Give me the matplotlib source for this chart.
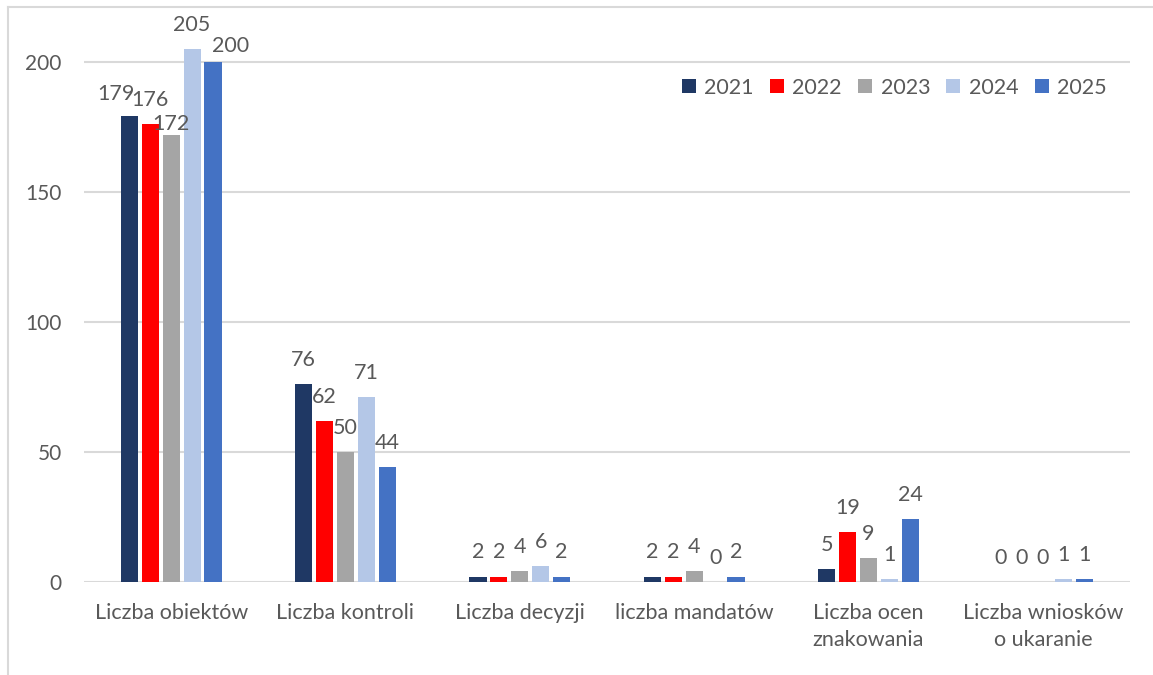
import numpy as np
import matplotlib.pyplot as plt
from matplotlib.patches import Patch
from matplotlib.lines import Line2D

plt.rcParams['font.family'] = ['Lato', 'DejaVu Sans']

# Data
categories = ['Liczba obiektów', 'Liczba kontroli', 'Liczba decyzji',
              'liczba mandatów', 'Liczba ocen\nznakowania', 'Liczba wniosków\no ukaranie']
years = ['2021', '2022', '2023', '2024', '2025']
v2021 = [179, 76, 2, 2, 5, 0]
v2022 = [176, 62, 2, 2, 19, 0]
v2023 = [172, 50, 4, 4, 9, 0]
v2024 = [205, 71, 6, 0, 1, 1]
v2025 = [200, 44, 2, 2, 24, 1]
series = [v2021, v2022, v2023, v2024, v2025]

colors = ['#1F3864', '#FF0000', '#A5A5A5', '#B4C7E7', '#4472C4']
text_col = '#595959'
grid_col = '#D9D9D9'

# manual nudges of a few crowded labels (series, category) -> (dx, dy) in px
label_nudge = {(0, 0): (-13, -2), (2, 0): (0, -13), (4, 0): (18, -8)}

W, H = 1153, 675
fig = plt.figure(figsize=(W / 100, H / 100), dpi=100)
y0_px, ymax = 581.7, 220
px_per_unit = 2.6
top_px = y0_px - ymax * px_per_unit
ax = fig.add_axes([84 / W, (H - y0_px) / H, 1046 / W, (y0_px - top_px) / H])

x = np.arange(len(categories))
pitch, width = 0.12, 0.098
for j, vals in enumerate(series):
    xs = x + (j - 2) * pitch
    ax.bar(xs, vals, width=width, color=colors[j], zorder=3, label=years[j])
    for i, v in enumerate(vals):
        dx, dy = label_nudge.get((j, i), (0, 0))
        ax.annotate(str(v), (xs[i], v), xytext=(dx * 0.72, (18 + dy) * 0.72),
                    textcoords='offset points', ha='center', va='baseline',
                    fontsize=15.5, color=text_col, zorder=4)

ax.set_xlim(-0.5, len(categories) - 0.5)
ax.set_ylim(0, ymax)
ax.set_yticks([0, 50, 100, 150, 200])
ax.yaxis.grid(True, color=grid_col, linewidth=1.5, zorder=0)
ax.set_xticks(x)
ax.set_xticklabels(categories, linespacing=1.45)
for s in ax.spines.values():
    s.set_visible(False)
ax.axhline(0, color=grid_col, linewidth=2, zorder=2)
ax.tick_params(axis='y', length=0, pad=16, labelsize=15, labelcolor=text_col)
ax.tick_params(axis='x', length=0, pad=15, labelsize=15.5, labelcolor=text_col)

handles = [Patch(facecolor=c, edgecolor='none') for c in colors]
fig.legend(handles, years, loc='center right', bbox_to_anchor=(1107 / W, (H - 87.7) / H),
           ncol=5, frameon=False, fontsize=15.5, labelcolor=text_col,
           handlelength=0.65, handleheight=0.65, handletextpad=0.4,
           columnspacing=0.75, borderpad=0, borderaxespad=0)

# chart border (top and left visible)
fig.add_artist(Line2D([7.5 / W, 1], [(H - 6.5) / H, (H - 6.5) / H],
                      color=grid_col, linewidth=1.5))
fig.add_artist(Line2D([7.5 / W, 7.5 / W], [0, (H - 6.5) / H],
                      color=grid_col, linewidth=1.5))

fig.savefig('out.png', dpi=100)
